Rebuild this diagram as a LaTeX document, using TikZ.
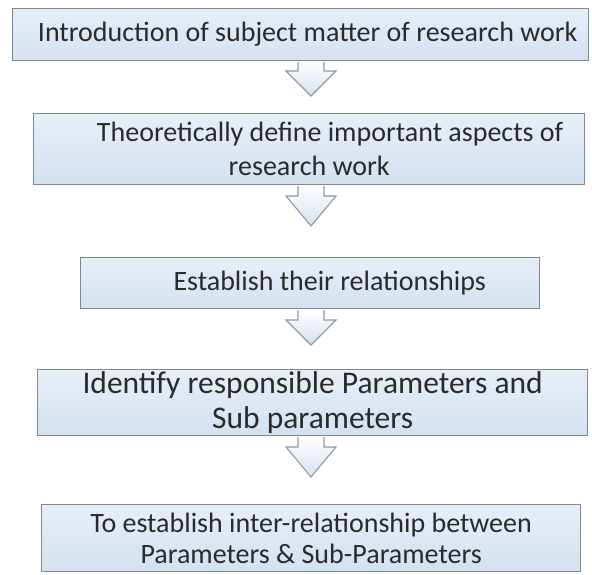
\documentclass[tikz,border=0pt]{standalone}
\usepackage{fontspec}
\setmainfont{Carlito}
\usetikzlibrary{calc}

\definecolor{boxtop}{HTML}{E6EEF8}
\definecolor{boxfill}{HTML}{D5E1F0}
\definecolor{boxedge}{HTML}{7D8995}
\definecolor{arrowedge}{HTML}{8E9AA6}
\definecolor{txt}{HTML}{2A2A2A}

\tikzset{
  stage/.style={draw=boxedge, line width=1.3pt, top color=boxtop, bottom color=boxfill,
    text=txt, anchor=north west, inner sep=0pt, align=center,
    font=\fontsize{28}{34}\selectfont},
  blockarrow/.style={draw=arrowedge, line width=1.1pt, top color=white, bottom color=boxfill}
}

% hollow arrow hanging below a box: node, shaft length, head length
\newcommand{\stepdown}[3]{%
  \path[blockarrow] ($(#1.south -| axis)+(-13,0.7)$) -- ++(0,#2) -- ++(-12,0)
    -- ($(#1.south -| axis)+(0,#2+#3+0.7)$)
    -- ($(#1.south -| axis)+(25,#2+0.7)$) -- ++(-12,0)
    -- ($(#1.south -| axis)+(13,0.7)$);
}

\begin{document}
\begin{tikzpicture}[x=1pt,y=-1pt]
  \useasboundingbox (0,0) rectangle (592,575);
  \coordinate (axis) at (311,0);

  \node[stage, minimum width=576, minimum height=52] (intro) at (12,8)
    {\hspace*{0.5em}Introduction of subject matter of research work};
  \node[stage, minimum width=551, minimum height=71] (define) at (33,113)
    {\hspace*{1.5em}Theoretically define important aspects of\\research work};
  \node[stage, minimum width=459, minimum height=51] (relate) at (80,257)
    {\hspace*{1.4em}Establish their relationships};
  \node[stage, minimum width=550, minimum height=66, font=\fontsize{31.5}{35}\selectfont] (params) at (37,369)
    {Identify responsible Parameters and\\Sub parameters};
  \node[stage, minimum width=539, minimum height=67, font=\fontsize{28}{31}\selectfont] (interrel) at (41,504)
    {To establish inter-relationship between\\Parameters \& Sub-Parameters};

  \stepdown{intro}{9}{25}
  \stepdown{define}{10}{30}
  \stepdown{relate}{10}{25}
  \stepdown{params}{10}{30}
\end{tikzpicture}
\end{document}
